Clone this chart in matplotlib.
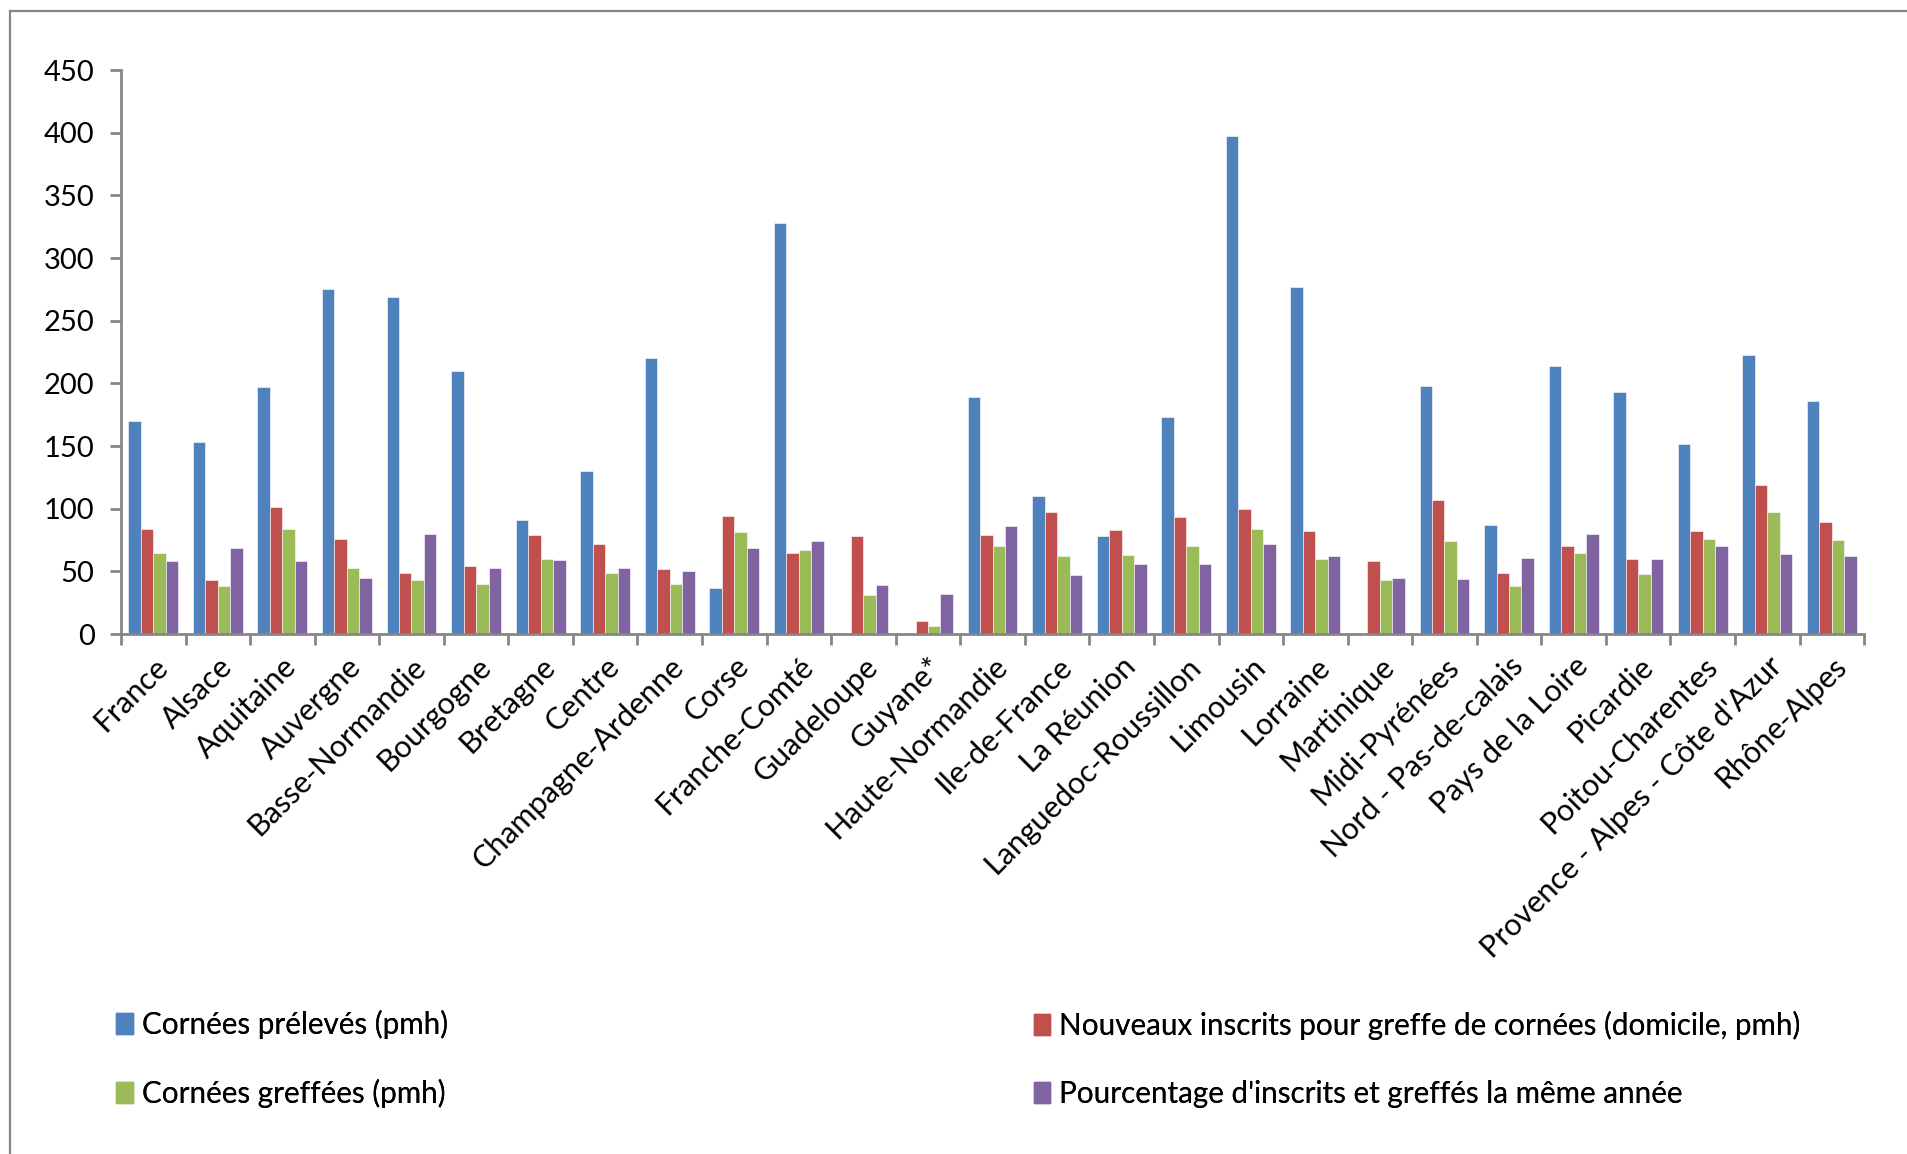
import matplotlib
matplotlib.use('Agg')
import matplotlib.pyplot as plt
import matplotlib.lines as mlines
import matplotlib.patches as mpatches
import numpy as np

regions = ['France', 'Alsace', 'Aquitaine', 'Auvergne', 'Basse-Normandie', 'Bourgogne',
           'Bretagne', 'Centre', 'Champagne-Ardenne', 'Corse', 'Franche-Comté', 'Guadeloupe',
           'Guyane*', 'Haute-Normandie', 'Ile-de-France', 'La Réunion', 'Languedoc-Roussillon',
           'Limousin', 'Lorraine', 'Martinique', 'Midi-Pyrénées', 'Nord - Pas-de-calais',
           'Pays de la Loire', 'Picardie', 'Poitou-Charentes', "Provence - Alpes - Côte d'Azur",
           'Rhône-Alpes']

prelevees = [170, 153, 197, 275, 269, 210, 91, 130, 220, 37, 328, 0, 0, 189, 110, 78,
             173, 397, 277, 0, 198, 87, 214, 193, 152, 223, 186]
inscrits = [84, 43, 101, 76, 49, 54, 79, 72, 52, 94, 65, 78, 10, 79, 97, 83, 93, 100, 82,
            58, 107, 49, 70, 60, 82, 119, 89]
greffees = [65, 38, 84, 53, 43, 40, 60, 49, 40, 81, 67, 31, 6, 70, 62, 63, 70, 84, 60, 43,
            74, 38, 65, 48, 76, 97, 75]
pourcentage = [58, 69, 58, 45, 80, 53, 59, 53, 50, 69, 74, 39, 32, 86, 47, 56, 56, 72, 62,
               45, 44, 61, 80, 60, 70, 64, 62]

series_labels = ['Cornées prélevés (pmh)',
                 'Nouveaux inscrits pour greffe de cornées (domicile, pmh)',
                 'Cornées greffées (pmh)',
                 "Pourcentage d'inscrits et greffés la même année"]
colors = ['#4F81BD', '#C0504D', '#9BBB59', '#8064A2']
y_ticks = [0, 50, 100, 150, 200, 250, 300, 350, 400, 450]

AXIS_GREY = '#868686'


def draw_chart():
    plt.rcParams['font.family'] = ['Lato', 'DejaVu Sans']
    fig = plt.figure(figsize=(19.08, 11.54), dpi=100)
    ax = fig.add_axes([0.0634, 0.4506, 0.9136, 0.4887])

    x = np.arange(len(regions))
    width = 0.193
    all_series = [prelevees, inscrits, greffees, pourcentage]
    for i, vals in enumerate(all_series):
        ax.bar(x + (i - 1.5) * width, vals, width, color=colors[i],
               edgecolor='white', linewidth=0.4, label=series_labels[i])

    ax.set_xlim(-0.5, len(regions) - 0.5)
    ax.set_ylim(0, 450)
    ax.set_yticks(y_ticks)
    ax.set_yticklabels([str(v) for v in y_ticks], fontsize=21)

    ax.set_xticks(x)
    ax.set_xticklabels(regions, rotation=45, ha='right', rotation_mode='anchor',
                       fontsize=22)
    ax.set_xticks(np.arange(-0.5, len(regions)), minor=True)
    ax.tick_params(axis='x', which='major', length=0, pad=13)
    ax.tick_params(axis='x', which='minor', length=8, width=2, color=AXIS_GREY,
                   direction='out')
    ax.tick_params(axis='y', length=8, width=2, color=AXIS_GREY, direction='out', pad=11)

    for s in ['top', 'right']:
        ax.spines[s].set_visible(False)
    for s in ['left', 'bottom']:
        ax.spines[s].set_color(AXIS_GREY)
        ax.spines[s].set_linewidth(2)

    # outer chart frame (only left and top visible in the original crop)
    fig.add_artist(mlines.Line2D([0.0055, 0.0055], [0, 0.9905], color=AXIS_GREY,
                                 linewidth=1.6, transform=fig.transFigure))
    fig.add_artist(mlines.Line2D([0.0055, 1], [0.9905, 0.9905], color=AXIS_GREY,
                                 linewidth=1.6, transform=fig.transFigure))

    # legend, two columns placed like the original
    handles = [mpatches.Patch(color=c) for c in colors]
    positions = [(0.061, 0.040), (0.542, 0.040)]
    for col in range(2):
        leg = fig.legend([handles[col], handles[col + 2]],
                         [series_labels[col], series_labels[col + 2]],
                         loc='lower left', bbox_to_anchor=positions[col],
                         frameon=False, fontsize=21.3, handlelength=0.55,
                         handleheight=0.7, handletextpad=0.3, labelspacing=1.35,
                         borderaxespad=0, borderpad=0)
        fig.add_artist(leg)
    return fig


if __name__ == "__main__":
    fig = draw_chart()
    fig.savefig('out.png', dpi=100)
    print("Saved out.png")
